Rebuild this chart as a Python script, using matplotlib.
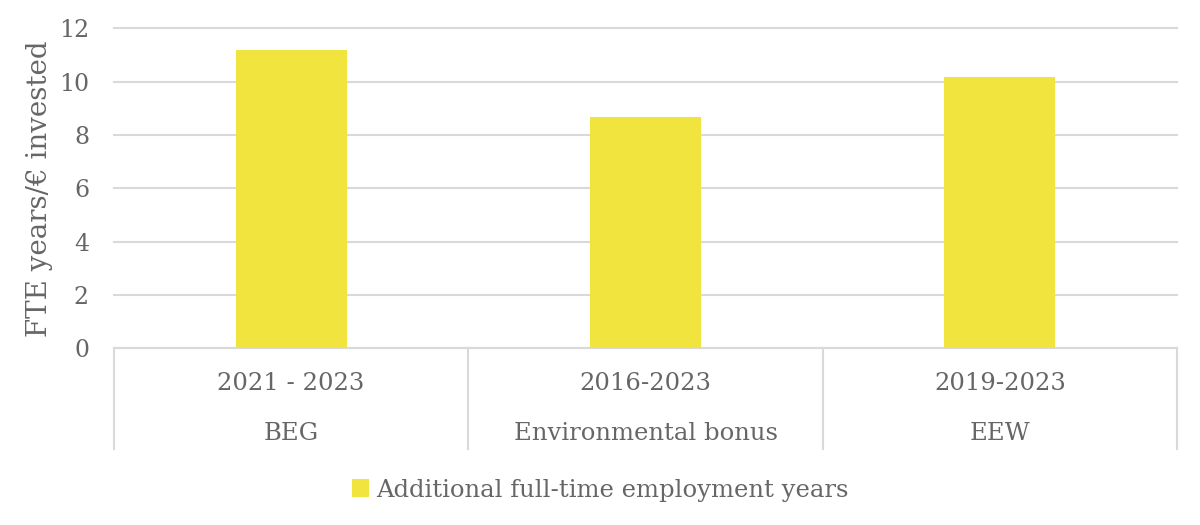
import matplotlib.pyplot as plt
from matplotlib.patches import Patch

# data
programmes = ['BEG', 'Environmental bonus', 'EEW']
periods = ['2021 - 2023', '2016-2023', '2019-2023']
fte_years = [11.2, 8.67, 10.16]
yticks = [0, 2, 4, 6, 8, 10, 12]
series_name = 'Additional full-time employment years'

bar_color = '#F2E43F'
text_color = '#666666'
grid_color = '#D9D9D9'

plt.rcParams['font.family'] = ['DejaVu Serif']

fig = plt.figure(figsize=(12, 5.25), dpi=100)
ax = fig.add_axes([114 / 1200, 1 - 348.3 / 525, (1177 - 114) / 1200, 320 / 525])

x = list(range(len(programmes)))
ax.bar(x, fte_years, width=0.313, color=bar_color, zorder=3)

ax.set_xlim(-0.5, len(programmes) - 0.5)
ax.set_ylim(0, 12)
ax.set_yticks(yticks)
ax.set_yticklabels([str(t) for t in yticks], fontsize=17, color=text_color)
ax.tick_params(axis='y', length=0, pad=18)
ax.tick_params(axis='x', length=0, labelbottom=False)
ax.yaxis.grid(True, color=grid_color, linewidth=1.5, zorder=0)
for gl in ax.get_ygridlines():
    gl.set_clip_on(False)
for s in ['top', 'right', 'left']:
    ax.spines[s].set_visible(False)
ax.spines['bottom'].set_color(grid_color)
ax.spines['bottom'].set_linewidth(1.5)

ax.set_ylabel('FTE years/€ invested', fontsize=20, color=text_color, labelpad=4)

# two-level category axis
trans = ax.get_xaxis_transform()
for i in range(len(programmes) + 1):
    ax.plot([i - 0.5, i - 0.5], [0, -0.315], transform=trans, color=grid_color,
            linewidth=1.5, clip_on=False)
for i, (p, per) in enumerate(zip(programmes, periods)):
    ax.text(i, -0.11, per, transform=trans, ha='center', va='center',
            fontsize=17.5, color=text_color)
    ax.text(i, -0.265, p, transform=trans, ha='center', va='center',
            fontsize=17.5, color=text_color)

handle = Patch(facecolor=bar_color, edgecolor='none')
leg = fig.legend([handle], [series_name], loc='center', bbox_to_anchor=(0.5, 1 - 490 / 525),
                 frameon=False, fontsize=17.5, handlelength=0.7, handleheight=0.7,
                 handletextpad=0.3, labelcolor=text_color)

fig.savefig('out.png', dpi=100)
